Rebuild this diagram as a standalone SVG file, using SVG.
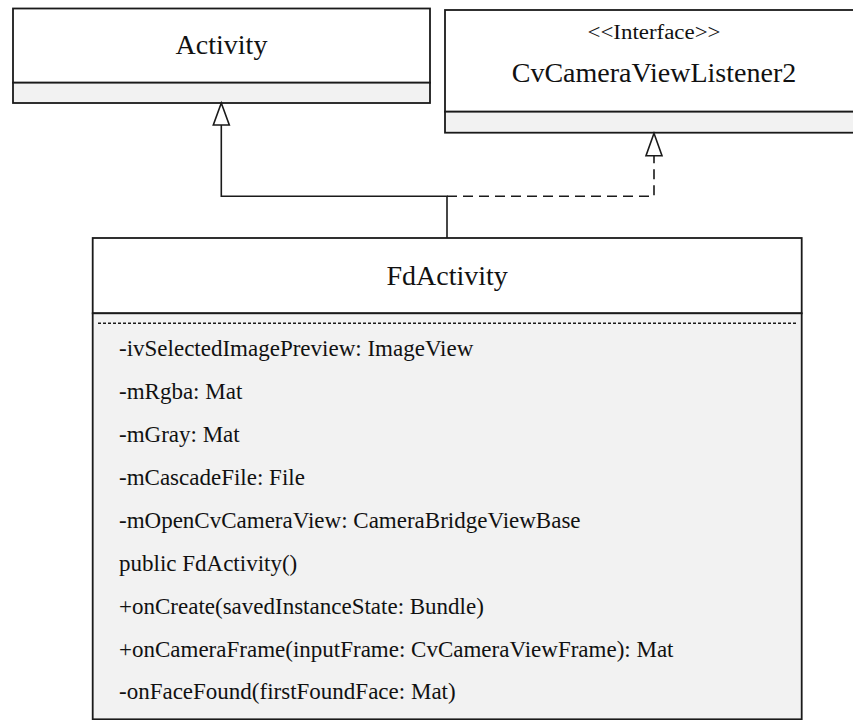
<svg xmlns="http://www.w3.org/2000/svg" width="853" height="720" viewBox="0 0 853 720">
  <style>
    .box { fill: #ffffff; stroke: #1a1a1a; stroke-width: 1.8; }
    .comp { fill: #f2f2f2; stroke: #1a1a1a; stroke-width: 1.8; }
    .title { font-family: "Liberation Serif", "DejaVu Serif", serif; font-size: 28px; fill: #111; text-anchor: middle; }
    .stereo { font-family: "Liberation Serif", "DejaVu Serif", serif; font-size: 20px; fill: #111; text-anchor: middle; }
    .member { font-family: "Liberation Serif", "DejaVu Serif", serif; font-size: 23px; fill: #111; }
    .line { fill: none; stroke: #1a1a1a; stroke-width: 1.6; }
    .dash { stroke-dasharray: 10 6; }
    .sep { stroke: #1a1a1a; stroke-width: 1.6; stroke-dasharray: 3 2; }
    .head { fill: #ffffff; stroke: #1a1a1a; stroke-width: 1.6; stroke-linejoin: miter; }
  </style>

  <!-- Activity class -->
  <g id="activity">
    <rect class="box" x="13" y="8.5" width="417" height="74.2"/>
    <rect class="comp" x="13" y="82.7" width="417" height="20.3"/>
    <text class="title" x="221.5" y="54">Activity</text>
  </g>

  <!-- CvCameraViewListener2 interface -->
  <g id="listener">
    <rect class="box" x="445" y="10" width="418" height="101.7"/>
    <rect class="comp" x="445" y="111.7" width="418" height="21"/>
    <text class="stereo" x="654" y="39.3" textLength="133" lengthAdjust="spacingAndGlyphs">&lt;&lt;Interface&gt;&gt;</text>
    <text class="title" x="654" y="81.7">CvCameraViewListener2</text>
  </g>

  <!-- FdActivity class -->
  <g id="fdactivity">
    <rect class="box" x="92.7" y="238" width="709" height="75.3"/>
    <rect class="comp" x="92.7" y="313.3" width="709" height="406"/>
    <line class="sep" x1="98" y1="323.3" x2="797" y2="323.3"/>
    <text class="title" x="447.2" y="285">FdActivity</text>
    <text class="member" x="119" y="356">-ivSelectedImagePreview: ImageView</text>
    <text class="member" x="119" y="399">-mRgba: Mat</text>
    <text class="member" x="119" y="442">-mGray: Mat</text>
    <text class="member" x="119" y="485">-mCascadeFile: File</text>
    <text class="member" x="119" y="528">-mOpenCvCameraView: CameraBridgeViewBase</text>
    <text class="member" x="119" y="571">public FdActivity()</text>
    <text class="member" x="119" y="614">+onCreate(savedInstanceState: Bundle)</text>
    <text class="member" x="119" y="657">+onCameraFrame(inputFrame: CvCameraViewFrame): Mat</text>
    <text class="member" x="119" y="699">-onFaceFound(firstFoundFace: Mat)</text>
  </g>

  <!-- Generalization and realization connectors -->
  <g id="connectors">
    <polyline class="line" points="447,238 447,196.3 221.3,196.3 221.3,125"/>
    <polyline class="line dash" points="447,196.3 654,196.3 654,155.7"/>
    <polygon class="head" points="221.3,103 213.3,125 229.3,125"/>
    <polygon class="head" points="654,133.3 646,155.7 662,155.7"/>
  </g>
</svg>
